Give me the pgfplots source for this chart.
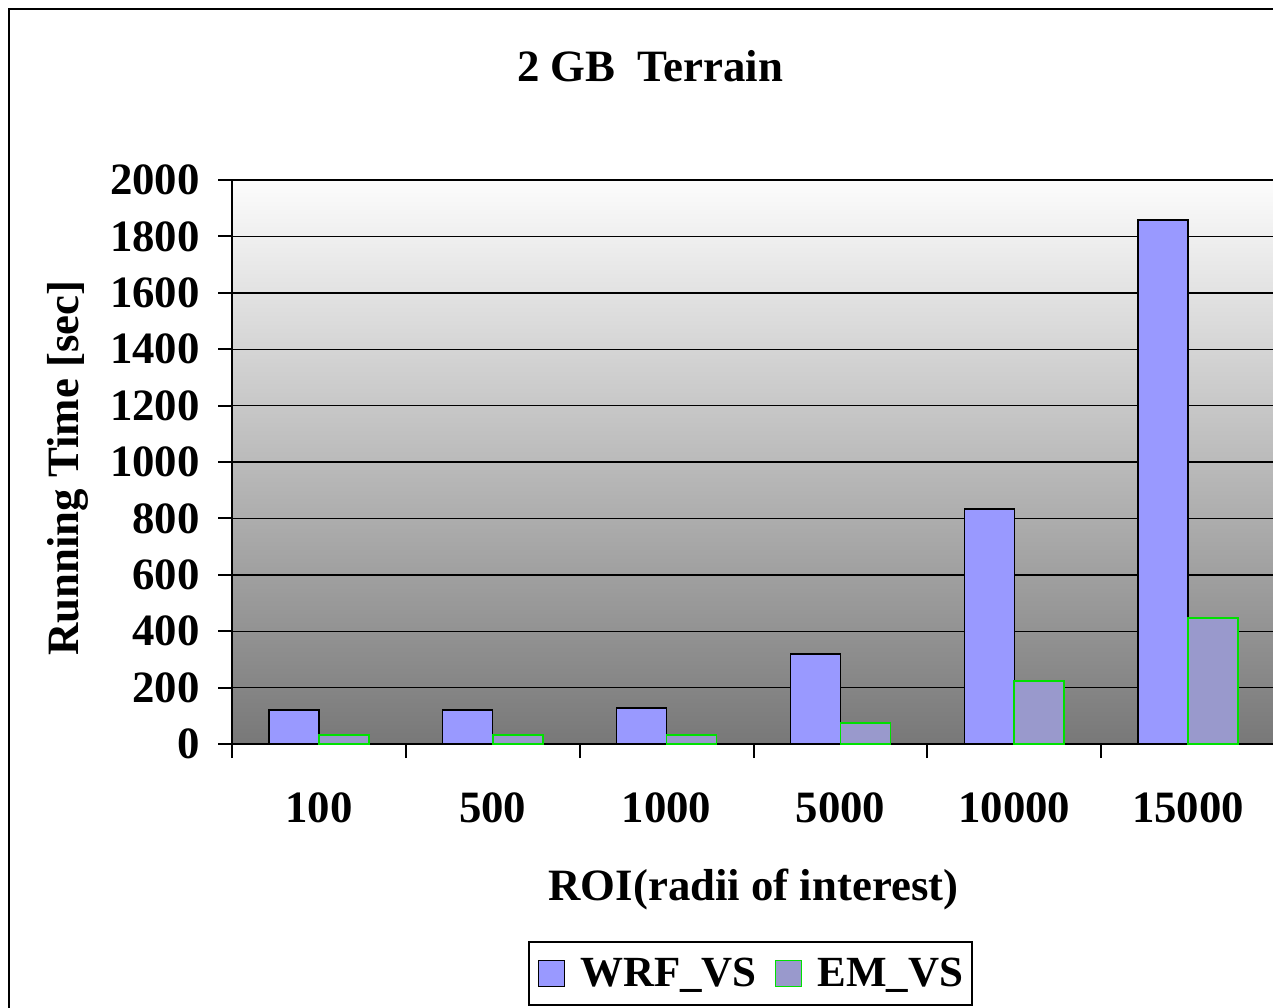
\documentclass[border=0pt]{standalone}
\usepackage{fontspec}
\setmainfont{Liberation Serif}
\usepackage{pgfplots}
\pgfplotsset{compat=1.18}
\definecolor{wrf}{HTML}{9999FF}
\definecolor{em}{HTML}{9999CC}
\definecolor{emedge}{HTML}{00E000}
\newcommand{\bigfont}{\fontsize{22.4bp}{26bp}\selectfont\bfseries}
\newcommand{\legfont}{\fontsize{21.5bp}{25bp}\selectfont\bfseries}
\begin{document}
\begin{tikzpicture}
\useasboundingbox (0,0) rectangle (636.5bp,-504bp);
\clip (0,0) rectangle (636.5bp,-504bp);
\draw[line width=1bp] (4.5bp,-4.5bp) rectangle (700bp,-600bp);
\begin{axis}[
  at={(116bp,-372bp)}, anchor=south west,
  scale only axis, width=521.5bp, height=282bp,
  xmin=-0.5, xmax=5.5, ymin=0, ymax=2000,
  ybar=0pt, bar width=25bp,
  axis x line*=bottom, axis y line*=left,
  axis line style={-, black, line width=1bp},
  axis background/.style={top color=white!99!black, bottom color=white!47!black},
  xtick={-0.5,0.5,1.5,2.5,3.5,4.5,5.5}, xticklabels={},
  extra x ticks={0,1,2,3,4,5},
  extra x tick labels={100,500,1000,5000,10000,15000},
  extra x tick style={tick style={draw=none}},
  ytick={0,200,...,2000},
  ymajorgrids, grid style={black, line width=0.7bp},
  tick align=outside, major tick length=7bp,
  tick style={black, line width=1bp},
  xtick pos=bottom, ytick pos=left,
  scaled y ticks=false,
  /pgf/number format/1000 sep={},
  /pgf/number format/assume math mode=true,
  ticklabel style={font=\bigfont},
  xticklabel style={anchor=north, inner sep=0pt, yshift=-17bp},
  yticklabel style={anchor=east, inner sep=0pt, xshift=-9bp},
  title={2 GB\ \ Terrain},
  title style={at={(axis description cs:0.401,1.181)}, anchor=center, font=\bigfont, inner sep=0pt},
  xlabel={ROI(radii of interest)},
  xlabel style={at={(axis description cs:0.5,-0.2766)}, anchor=base, font=\bigfont, inner sep=0pt},
  ylabel={Running Time [sec]},
  ylabel style={at={(axis description cs:-0.157,0.489)}, anchor=center, font=\bigfont, inner sep=0pt},
  legend style={at={(axis description cs:0.497,-0.407)}, anchor=center, draw=black, line width=1bp,
    font=\legfont, inner xsep=4.25bp, inner ysep=5.75bp,
    nodes={inner xsep=0pt},
    /tikz/every odd column/.append style={column sep=7.5bp},
    /tikz/every even column/.append style={column sep=9bp}},
  legend columns=2,
]
\addplot[fill=wrf, draw=black, line width=0.7bp,
  legend image code/.code={\draw[fill=wrf, draw=black, line width=0.7bp] (0bp,-6.5bp) rectangle (13bp,6.5bp);}]
  coordinates {(0,120) (1,120) (2,128) (3,319) (4,833) (5,1858)};
\addplot[fill=em, draw=emedge, line width=0.8bp,
  legend image code/.code={\draw[fill=em, draw=emedge, line width=0.8bp] (0bp,-6.5bp) rectangle (13bp,6.5bp);}]
  coordinates {(0,32) (1,32) (2,32) (3,74) (4,223) (5,447)};
\legend{WRF\_VS, EM\_VS}
\end{axis}
\end{tikzpicture}
\end{document}
